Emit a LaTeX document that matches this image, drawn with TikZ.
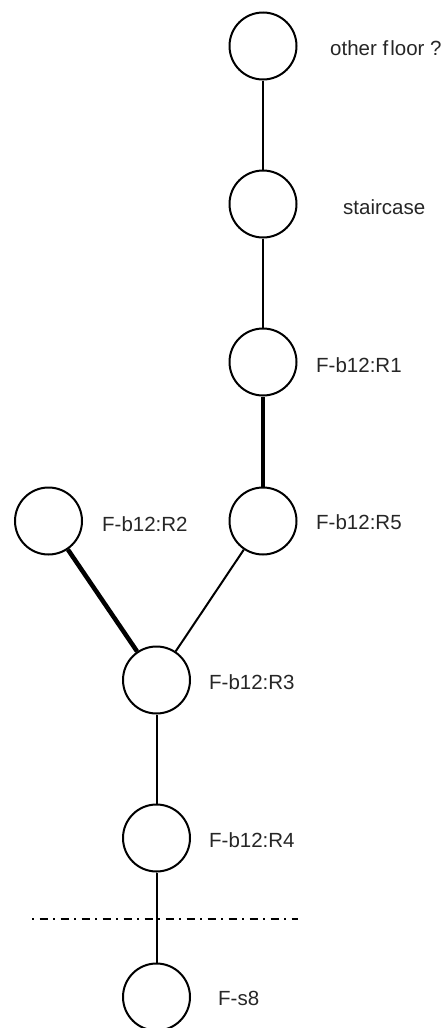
\documentclass[tikz,border=0pt]{standalone}
\usepackage{fontspec}
\setmainfont{Liberation Sans}
\begin{document}
\begin{tikzpicture}[x=1pt,y=-1pt,
  roomnode/.style={circle,draw=black,line width=2pt,minimum size=67pt,inner sep=0pt,fill=white},
  roomlabel/.style={anchor=base west,inner sep=0pt,text=black!85,font=\fontsize{20.5}{24}\selectfont},
  thinlink/.style={line width=2pt,black},
  thicklink/.style={line width=4.5pt,black},
  floorline/.style={line width=1.5pt,black,dash pattern=on 2pt off 5.5pt on 8pt off 5.5pt}]
\useasboundingbox (0,0) rectangle (447,1028);
\node[roomnode] (of) at (263,46) {};
\node[roomnode] (st) at (263,204) {};
\node[roomnode] (r1) at (263,362) {};
\node[roomnode] (r5) at (263,521) {};
\node[roomnode] (r2) at (48.5,521) {};
\node[roomnode] (r3) at (156.5,680) {};
\node[roomnode] (r4) at (156.5,838) {};
\node[roomnode] (s8) at (156.5,997) {};
\node[roomlabel] (lof) at (330,55.5) {other f{\kern2pt}loor ?};
\node[roomlabel] (lst) at (343,214.5) {staircase};
\node[roomlabel] (lr1) at (316,372.5) {F-b12:R1};
\node[roomlabel] (lr5) at (316,529.5) {F-b12:R5};
\node[roomlabel] (lr2) at (102,531.5) {F-b12:R2};
\node[roomlabel] (lr3) at (209,689.5) {F-b12:R3};
\node[roomlabel] (lr4) at (209,847.5) {F-b12:R4};
\node[roomlabel] (ls8) at (218,1005.5) {F-s8};
\draw[thinlink] (of) -- (st);
\draw[thinlink] (st) -- (r1);
\draw[thicklink] (r1) -- (r5);
\draw[thinlink] (r5) -- (r3);
\draw[thicklink] (r2) -- (r3);
\draw[thinlink] (r3) -- (r4);
\draw[thinlink] (r4) -- (s8);
\coordinate (fl1) at (32,919);
\coordinate (fl2) at (298,919);
\draw[floorline] (fl1) -- (fl2);
\end{tikzpicture}
\end{document}
